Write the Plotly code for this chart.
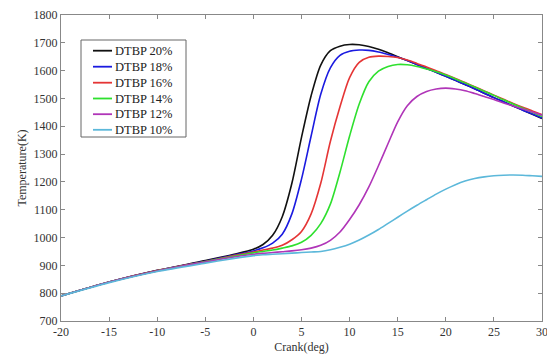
import plotly.graph_objects as go

crank = [-20, -15, -10, -5, -2] + list(range(0, 31))

t20 = [790, 840, 882, 917, 940,
       958, 975, 1008, 1075, 1195, 1360, 1510, 1620, 1672, 1688, 1694, 1693, 1687, 1677, 1664, 1650,
       1636, 1622, 1608, 1594, 1580, 1565, 1550, 1535, 1519, 1503, 1488, 1473, 1458, 1443, 1428]
t18 = [790, 840, 881, 915, 937,
       952, 963, 980, 1012, 1085, 1210, 1365, 1515, 1610, 1655, 1670, 1674, 1673, 1667, 1658, 1648,
       1636, 1622, 1608, 1594, 1580, 1565, 1550, 1535, 1519, 1503, 1488, 1473, 1458, 1444, 1430]
t16 = [790, 840, 881, 914, 935,
       948, 955, 962, 972, 992, 1022, 1085, 1195, 1345, 1470, 1575, 1630, 1648, 1652, 1651, 1647,
       1638, 1626, 1613, 1600, 1586, 1572, 1557, 1542, 1527, 1512, 1497, 1482, 1468, 1455, 1442]
t14 = [790, 840, 880, 913, 933,
       945, 950, 955, 962, 970, 983, 1008, 1050, 1120, 1235, 1365, 1480, 1560, 1598, 1615, 1622,
       1621, 1615, 1606, 1596, 1584, 1570, 1556, 1541, 1526, 1511, 1495, 1480, 1465, 1450, 1435]
t12 = [790, 840, 880, 912, 930,
       940, 943, 946, 949, 952, 956, 962, 972, 990, 1020, 1065, 1118, 1182, 1258, 1338, 1416,
       1474, 1507, 1525, 1534, 1537, 1534, 1528, 1518, 1507, 1496, 1484, 1473, 1462, 1451, 1440]
t10 = [790, 838, 878, 908, 925,
       935, 938, 940, 942, 944, 946, 948, 950, 956, 965, 976, 991, 1009, 1029, 1051, 1073,
       1095, 1116, 1136, 1156, 1174, 1190, 1203, 1212, 1218, 1222, 1224, 1225, 1224, 1222, 1220]

names = ["DTBP 20%", "DTBP 18%", "DTBP 16%", "DTBP 14%", "DTBP 12%", "DTBP 10%"]
series = [t20, t18, t16, t14, t12, t10]
colors = ["#111111", "#1a1ae0", "#e53535", "#2ee02e", "#b035b8", "#5cb8da"]

x_ticks = [-20, -15, -10, -5, 0, 5, 10, 15, 20, 25, 30]
y_ticks = [700, 800, 900, 1000, 1100, 1200, 1300, 1400, 1500, 1600, 1700, 1800]

W, H = 547, 358
ML, MR, MT, MB = 61, 5, 15, 37
PW, PH = W - ML - MR, H - MT - MB

def px_x(p):
    return (p - ML) / PW

def px_y(p):
    return (H - MB - p) / PH

fig = go.Figure()
for name, ys, c in zip(names, series, colors):
    fig.add_trace(go.Scatter(x=crank, y=ys, mode="lines", name=name, showlegend=False,
                             line=dict(color=c, width=1.6, shape="spline", smoothing=0.8)))

serif = "Liberation Serif, Times New Roman, serif"
font = dict(family=serif, size=12, color="#333333")
axis_common = dict(showgrid=False, zeroline=False, showline=True, linecolor="#888888",
                   linewidth=1, mirror="ticks", ticks="inside", ticklen=4,
                   tickcolor="#888888", tickfont=font, automargin=False,
                   ticklabeloverflow="allow")

# compact MATLAB-style legend
shapes = [dict(type="rect", xref="paper", yref="paper",
               x0=px_x(81), x1=px_x(186), y0=px_y(137), y1=px_y(40),
               line=dict(color="#666666", width=1), fillcolor="white", layer="above")]
annotations = []
row_y = [50.7, 66.7, 82.7, 98.5, 114.2, 129.8]
for name, c, py in zip(names, colors, row_y):
    shapes.append(dict(type="line", xref="paper", yref="paper",
                       x0=px_x(93), x1=px_x(112), y0=px_y(py), y1=px_y(py),
                       line=dict(color=c, width=1.8), layer="above"))
    annotations.append(dict(xref="paper", yref="paper", x=px_x(112.5), y=px_y(py),
                            text=name, showarrow=False, xanchor="left", yanchor="middle",
                            font=dict(family=serif, size=12.5, color="#222222")))

fig.update_layout(
    width=W, height=H,
    margin=dict(l=ML, r=MR, t=MT, b=MB),
    paper_bgcolor="white", plot_bgcolor="white",
    font=font, showlegend=False,
    shapes=shapes, annotations=annotations,
)
fig.update_xaxes(range=[-20, 30], tickvals=x_ticks, ticktext=[str(v) for v in x_ticks],
                 title=dict(text="Crank(deg)", font=font, standoff=4), **axis_common)
fig.update_yaxes(range=[700, 1800], tickvals=y_ticks, ticktext=[str(v) for v in y_ticks],
                 title=dict(text="Temperature(K)", font=font, standoff=4), **axis_common)

fig.write_html("out.html")
